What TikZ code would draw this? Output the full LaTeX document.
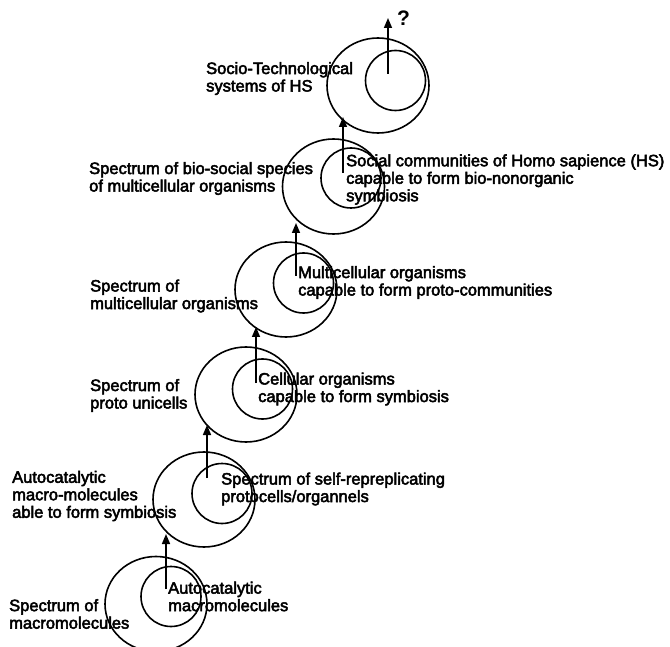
\documentclass[tikz,border=0pt]{standalone}
\usepackage{fontspec}
\setmainfont{Liberation Sans}
\newfontfamily\lblfont{Liberation Sans}[FakeBold=3]
\usetikzlibrary{arrows.meta,shapes.geometric}
\tikzset{x=1pt, y=-1pt,
    outer/.style={draw, ellipse, line width=1.6pt, minimum width=102pt, minimum height=95pt, inner sep=0pt},
    inner/.style={draw, circle, line width=1.6pt, minimum size=60pt, inner sep=0pt},
    rise/.style={line width=1.6pt, -{Triangle[length=10pt,width=8pt]}},
    lbl/.style={anchor=west, align=left, inner sep=0pt, font=\lblfont\fontsize{16.5}{17.5}\selectfont}}

\begin{document}
\begin{tikzpicture}
    \useasboundingbox (0,0) rectangle (670,647);
    % six stages, bottom to top
    \foreach \n/\ox/\oy/\ix/\iy/\ax/\ay/\ty in {
            1/156/604/171/596.5/166/589/534,
            2/204/499.5/222/493.5/207/478/425,
            3/246/394.5/262.5/389/256/383/327,
            4/286/289.5/303.5/283/296/276/223,
            5/333.5/186.5/351/178/343/173/117,
            6/378/85.5/395.5/80.5/388/74/18}{
        \node[outer] (out\n) at (\ox,\oy) {};
        \node[inner] (in\n) at (\ix,\iy) {};
        \coordinate (from\n) at (\ax,\ay);
        \coordinate (to\n) at (\ax,\ty);
        \draw[rise] (from\n) -- (to\n);
    }
    % labels
    \node[lbl] (sub1) at (168,596.5) {Autocatalytic\\macromolecules};
    \node[lbl] (spec1) at (9,614) {Spectrum of\\macromolecules};
    \node[lbl] (sub2) at (221,489) {Spectrum of self-repreplicating\\protocells/organnels};
    \node[lbl] (spec2) at (12,496) {Autocatalytic\\macro-molecules\\able to form symbiosis};
    \node[lbl] (sub3) at (258,389) {Cellular organisms\\capable to form symbiosis};
    \node[lbl] (spec3) at (90,395.5) {Spectrum of\\proto unicells};
    \node[lbl] (sub4) at (298,282.5) {Multicellular organisms\\capable to form proto-communities};
    \node[lbl] (spec4) at (90,296) {Spectrum of\\multicellular organisms};
    \node[lbl] (sub5) at (346,179.5) {Social communities of Homo sapience (HS)\\capable to form bio-nonorganic\\symbiosis};
    \node[lbl] (spec5) at (89,178.5) {Spectrum of bio-social species\\of multicellular organisms};
    \node[lbl] (spec6) at (206,78.5) {Socio-Technological\\systems of HS};
    \node[lbl, font=\bfseries\fontsize{21}{21}\selectfont] (ask) at (397,18) {?};
\end{tikzpicture}
\end{document}
